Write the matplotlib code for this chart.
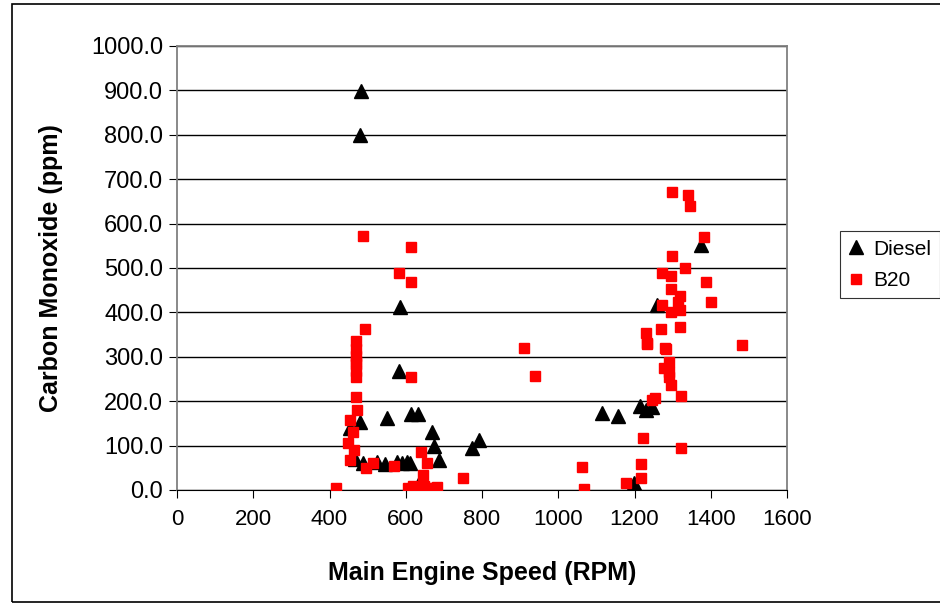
import matplotlib
matplotlib.use("Agg")
import matplotlib.pyplot as plt
from matplotlib.patches import Rectangle

plt.rcParams['font.family'] = ['Liberation Sans', 'DejaVu Sans']

# Diesel readings (RPM, ppm)
diesel_rpm = [482, 479, 584, 581, 552, 615, 631, 668, 675, 686, 479, 453,
              466, 487, 524, 545, 576, 589, 602, 610, 636, 775, 791,
              1115, 1157, 1215, 1230, 1246, 1199, 1259, 1374]
diesel_co = [899, 800, 412, 268, 162, 171, 171, 131, 99, 68, 153, 140,
             70, 60, 62, 58, 63, 60, 62, 60, 16, 95, 113,
             173, 167, 189, 180, 187, 16, 417, 552]

# B20 readings (RPM, ppm)
b20_rpm = [487, 615, 581, 615, 492, 469, 469, 469, 469, 469, 469, 469,
           615, 469, 471, 455, 461, 448, 463, 453, 497, 513, 568, 641, 657, 644,
           416, 605, 620, 632, 647, 660, 670, 681, 678, 749, 911, 940,
           1233, 1283, 1482, 1291, 1277, 1291, 1291, 1296, 1322, 1254, 1246,
           1223, 1322, 1063, 1217, 1217, 1178, 1068,
           1298, 1340, 1346, 1382, 1298, 1332, 1272, 1296, 1387, 1296, 1319,
           1401, 1314, 1272, 1296, 1319, 1270, 1319, 1230, 1233, 1280]
b20_co = [572, 547, 489, 468, 362, 335, 317, 302, 290, 284, 268, 255,
          255, 210, 180, 158, 131, 106, 90, 68, 50, 61, 54, 86, 61, 34,
          5, 5, 10, 3, 8, 2, 5, 7, 5, 27, 320, 257,
          329, 318, 327, 288, 275, 266, 255, 236, 212, 207, 203,
          118, 94, 52, 59, 27, 16, 2,
          671, 664, 640, 570, 527, 500, 489, 482, 468, 453, 437,
          423, 423, 417, 401, 405, 363, 367, 354, 331, 320]

fig = plt.figure(figsize=(9.4, 6.04), dpi=100)
ax = fig.add_axes([177/940, 1 - 490/604, 610/940, 444/604])

ax.plot(diesel_rpm, diesel_co, linestyle='none', marker='^', color='black',
        markersize=9.5, label='Diesel', zorder=3)
ax.plot(b20_rpm, b20_co, linestyle='none', marker='s', color='#ff0000',
        markersize=7.5, label='B20', zorder=4)

ax.set_xlim(0, 1600)
ax.set_ylim(0, 1000)
ax.set_xticks(range(0, 1601, 200))
ax.set_yticks(range(0, 1001, 100))
ax.set_yticklabels(['%.1f' % v for v in range(0, 1001, 100)])
ax.yaxis.grid(True, color='black', linewidth=1.0)
ax.set_axisbelow(True)
ax.tick_params(axis='x', labelsize=16, length=6, pad=8, color='black')
ax.tick_params(axis='y', labelsize=17, length=6, pad=4, color='black')
for s in ['top', 'right', 'left']:
    ax.spines[s].set_color('#808080')
    ax.spines[s].set_linewidth(1.3)
ax.spines['bottom'].set_color('black')

ax.set_xlabel('Main Engine Speed (RPM)', fontsize=18, fontweight='bold', labelpad=22)
ax.set_ylabel('Carbon Monoxide (ppm)', fontsize=18, fontweight='bold', labelpad=20)

leg = fig.legend(loc='upper left', bbox_to_anchor=(836/940, 1 - 227/604),
                 fontsize=15, frameon=True, fancybox=False, edgecolor='black',
                 handlelength=0.7, handletextpad=0.5, borderpad=0.4,
                 borderaxespad=0.2, labelspacing=0.6)
leg.get_frame().set_linewidth(0.8)

fig.patches.append(Rectangle((12/940, 0.004), 1.0, 0.99, transform=fig.transFigure,
                             fill=False, edgecolor='black', linewidth=1.2))

plt.savefig('out.png')
